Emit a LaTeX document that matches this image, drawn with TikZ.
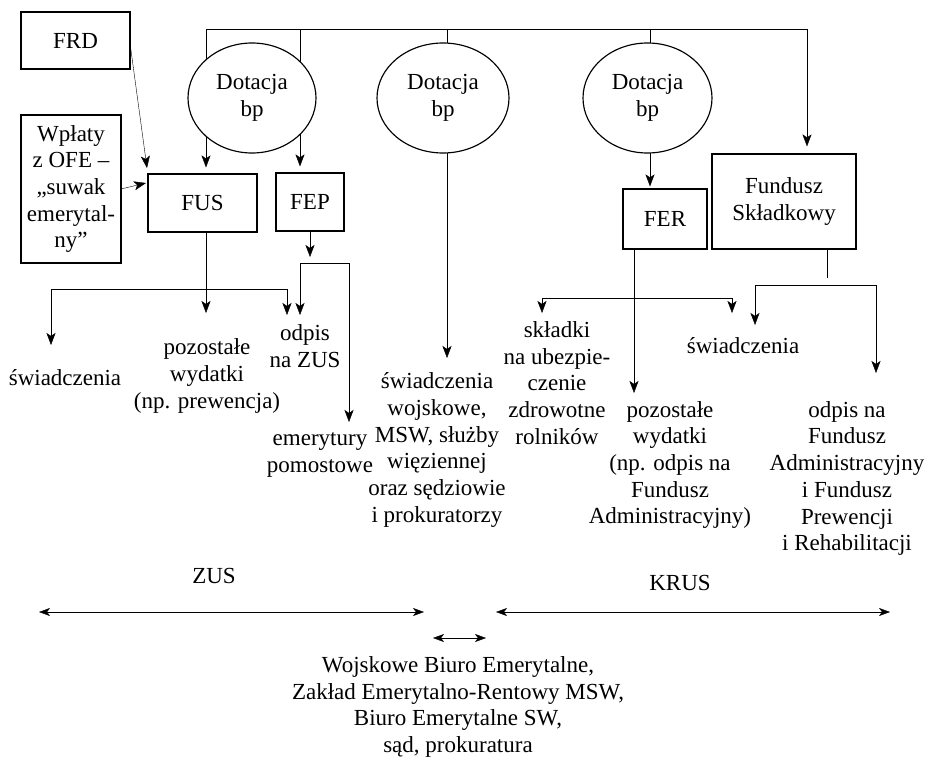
\documentclass[tikz,border=0pt]{standalone}
\usepackage{fontspec}
\setmainfont{Liberation Serif}
\usetikzlibrary{arrows.meta,shapes.geometric}
\pgfdeclarelayer{background}
\pgfsetlayers{background,main}
\begin{document}
\begin{tikzpicture}[x=1pt,y=-1pt,
  line width=1.15pt,
  every node/.style={font=\fontsize{23}{26.7}\selectfont, inner sep=0pt, align=center},
  box/.style={draw, fill=white},
  oval/.style={draw, fill=white, ellipse, minimum width=130pt, minimum height=110pt},
  arr/.style={-{Stealth[length=12pt,width=9pt,inset=3pt]}},
  dbl/.style={{Stealth[length=11pt,width=8pt,inset=3pt]}-{Stealth[length=11pt,width=8pt,inset=3pt]}}]
\useasboundingbox (0,0) rectangle (929,757);

% boxes
\node[box, minimum width=109pt, minimum height=57pt] (FRD) at (75.5,40.5) {FRD};
\node[box, minimum width=100pt, minimum height=148pt] (OFE) at (71,189) {Wpłaty\\z OFE –\\„suwak\\emerytal-\\ny”};
\node[box, minimum width=109pt, minimum height=58pt] (FUS) at (202.5,203) {FUS};
\node[box, minimum width=68pt, minimum height=58pt] (FEP) at (310,202) {FEP};
\node[box, minimum width=84pt, minimum height=60pt] (FER) at (665,219) {FER};
\node[box, minimum width=144pt, minimum height=95pt] (FS) at (784,201.5) {Fundusz\\Składkowy};

% ellipses
\node[oval, minimum width=128pt] (E1) at (252,98) {Dotacja\\bp};
\node[oval, minimum width=132pt] (E2) at (443,98) {Dotacja\\bp};
\node[oval, minimum width=129pt] (E3) at (647.5,98) {Dotacja\\bp};

% text targets
\node (swL) at (65,378) {świadczenia};
\node (pw1) at (207,376) {pozostałe\\wydatki\\(np. prewencja)};
\node (odp) at (305,346) {odpis\\na ZUS};
\node (emer) at (320,455) {emerytury\\pomostowe};
\node (swW) at (437,450) {świadczenia\\wojskowe,\\MSW, służby\\więziennej\\oraz sędziowie\\i prokuratorzy};
\node (skl) at (557,383) {składki\\na ubezpie-\\czenie\\zdrowotne\\rolników};
\node (pw2) at (670,465) {pozostałe\\wydatki\\(np. odpis na\\Fundusz\\Administracyjny)};
\node (swR) at (743,346) {świadczenia};
\node (odpR) at (847,478.5) {odpis na\\Fundusz\\Administracyjny\\i Fundusz\\Prewencji\\i Rehabilitacji};
\node (ZUS) at (214,576) {ZUS};
\node (KRUS) at (680,583) {KRUS};
\node (inst) at (458,707) {Wojskowe Biuro Emerytalne,\\Zakład Emerytalno-Rentowy MSW,\\Biuro Emerytalne SW,\\sąd, prokuratura};

% coordinates
\coordinate (tl) at (206,29);
\coordinate (t2) at (300,29);
\coordinate (t3) at (447,29);
\coordinate (t4) at (650,29);
\coordinate (tr) at (807,29);
\coordinate (frdA) at (130,43);
\coordinate (frdB) at (147,168);
\coordinate (ofeA) at (121,189);
\coordinate (ofeB) at (146,183);
\coordinate (fusB) at (206,289);
\coordinate (fusL) at (51,345);
\coordinate (fusR) at (287,315);
\coordinate (fusD) at (206,313);
\coordinate (fepD) at (310,257);
\coordinate (fepC) at (300,263);
\coordinate (fepL) at (300,315);
\coordinate (fepR) at (349,422);
\coordinate (swWt) at (447,358);
\coordinate (ferD) at (634,393);
\coordinate (ferB) at (634,298);
\coordinate (ferL) at (542,313);
\coordinate (ferR) at (732,313);
\coordinate (fsD) at (827,278);
\coordinate (fsB) at (755,285);
\coordinate (fsL) at (755,325);
\coordinate (fsR) at (876,373);

\begin{pgfonlayer}{background}
\draw (tl) -- (tr);
\draw[arr, shorten >=6pt] (tl) -- (tl |- FUS.north);
\draw[arr, shorten >=6pt] (t2) -- (t2 |- FEP.north);
\draw[arr] (t3) -- (swWt);
\draw[arr, shorten >=2pt] (t4) -- (t4 |- FER.north);
\draw[arr, shorten >=7pt] (tr) -- (tr |- FS.north);
\end{pgfonlayer}

\draw[arr] (frdA) -- (frdB);
\draw[arr] (ofeA) -- (ofeB);
\draw[arr] (FUS.south -| fusD) -- (fusD);
\draw[arr] (fusB) -| (fusL);
\draw[arr] (fusB) -| (fusR);
\draw[arr] (FEP.south -| fepD) -- (fepD);
\draw[arr] (fepC) -- (fepL);
\draw[arr] (fepC) -| (fepR);
\draw[arr] (FER.south -| ferD) -- (ferD);
\draw[arr] (ferB) -| (ferL);
\draw[arr] (ferB) -| (ferR);
\draw (FS.south -| fsD) -- (fsD);
\draw[arr] (fsB) -- (fsL);
\draw[arr] (fsB) -| (fsR);

\coordinate (zA) at (39,612);
\coordinate (zB) at (424,612);
\coordinate (kA) at (496,612);
\coordinate (kB) at (890,612);
\coordinate (mA) at (433,638);
\coordinate (mB) at (486,638);
\draw[dbl] (zA) -- (zB);
\draw[dbl] (kA) -- (kB);
\draw[dbl] (mA) -- (mB);
\end{tikzpicture}
\end{document}
